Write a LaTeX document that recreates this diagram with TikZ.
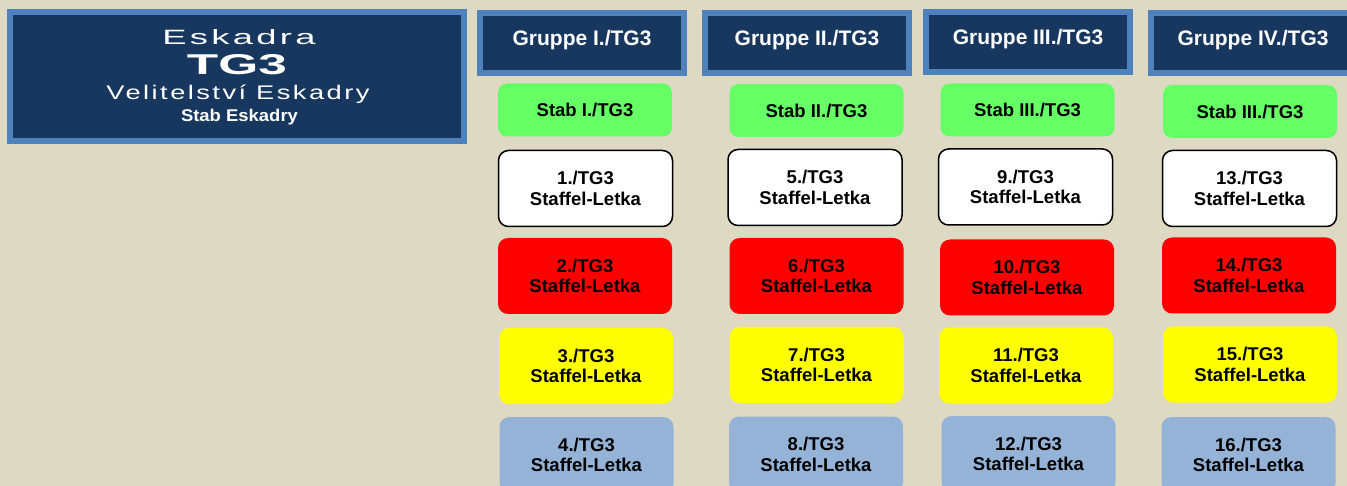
\documentclass[tikz,border=0pt]{standalone}
\usepackage{graphicx}
\usepackage{fontspec}
\setmainfont{Liberation Sans}
\newfontfamily\spaced[LetterSpace=9]{Liberation Sans}
\usepackage{tikz}
\definecolor{paper}{HTML}{DDD9C3}
\definecolor{navy}{HTML}{17375E}
\definecolor{steel}{HTML}{4F81BD}
\definecolor{stabgreen}{HTML}{66FF66}
\definecolor{letkared}{HTML}{FF0000}
\definecolor{letkayellow}{HTML}{FFFF00}
\definecolor{letkablue}{HTML}{95B3D7}
\tikzset{
  header/.style={fill=navy, draw=steel, line width=6pt, minimum width=204pt, minimum height=60pt,
    inner sep=0pt, text=white, font=\fontsize{21}{25}\selectfont\bfseries, text height=15pt, text depth=10pt},
  stab/.style={fill=stabgreen, rounded corners=9pt, minimum width=174pt, minimum height=53pt,
    inner sep=0pt, font=\fontsize{18.5}{21}\selectfont\bfseries},
  letka/.style={fill=#1, rounded corners=10pt, minimum width=174pt, minimum height=76pt,
    inner sep=0pt, align=center, font=\fontsize{18.5}{20.5}\selectfont\bfseries},
  firstletka/.style={letka=white, draw=black, line width=1.5pt},
  title/.style={anchor=base, inner sep=0pt, text=white, font=\fontsize{21}{25}\selectfont},
}

\begin{document}
\begin{tikzpicture}[x=1pt,y=-1pt]
        \useasboundingbox (0,0) rectangle (1347,486);
        \clip (0,0) rectangle (1347,486);
        \fill[paper] (0,0) rectangle (1347,486);
        % Eskadra
        \node[fill=navy, draw=steel, line width=6pt, minimum width=454pt, minimum height=129pt] (eskadra) at (237,76.5) {};
        \node[title] (name) at (239,45) {\resizebox{153pt}{15pt}{\spaced Eskadra}};
        \node[title] (code) at (237,75) {\resizebox{100pt}{20pt}{\bfseries TG3}};
        \node[title] (command) at (238,100) {\resizebox{263pt}{14.5pt}{\spaced Velitelství Eskadry}};
        \node[title] (staff) at (239.5,121.7) {\resizebox{117pt}{12.3pt}{\bfseries Stab Eskadry}};
        % Gruppen
        \node[header] (g1) at (582,43) {Gruppe I./TG3};
        \node[header] (g2) at (807,43) {Gruppe II./TG3};
        \node[header] (g3) at (1028,42) {Gruppe III./TG3};
        \node[header] (g4) at (1253,43) {Gruppe IV./TG3};
        % Stab
        \node[stab] (s1) at (585,110) {Stab I./TG3};
        \node[stab] (s2) at (816.5,110.5) {Stab II./TG3};
        \node[stab] (s3) at (1027.5,110) {Stab III./TG3};
        \node[stab] (s4) at (1250,111.5) {Stab III./TG3};
        % Staffeln
        \node[firstletka] (l1) at (585.5,188.5) {1./TG3\\Staffel-Letka};
        \node[letka=letkared] (l2) at (585,276) {2./TG3\\Staffel-Letka};
        \node[letka=letkayellow] (l3) at (586,366) {3./TG3\\Staffel-Letka};
        \node[letka=letkablue] (l4) at (586.5,455) {4./TG3\\Staffel-Letka};
        \node[firstletka] (l5) at (815,187.5) {5./TG3\\Staffel-Letka};
        \node[letka=letkared] (l6) at (816.5,276) {6./TG3\\Staffel-Letka};
        \node[letka=letkayellow] (l7) at (816.5,365) {7./TG3\\Staffel-Letka};
        \node[letka=letkablue] (l8) at (816,454.5) {8./TG3\\Staffel-Letka};
        \node[firstletka] (l9) at (1025.5,187) {9./TG3\\Staffel-Letka};
        \node[letka=letkared] (l10) at (1027,277.5) {10./TG3\\Staffel-Letka};
        \node[letka=letkayellow] (l11) at (1026,365.5) {11./TG3\\Staffel-Letka};
        \node[letka=letkablue] (l12) at (1028.5,454) {12./TG3\\Staffel-Letka};
        \node[firstletka] (l13) at (1249.5,188.5) {13./TG3\\Staffel-Letka};
        \node[letka=letkared] (l14) at (1249,275.5) {14./TG3\\Staffel-Letka};
        \node[letka=letkayellow] (l15) at (1250,364.5) {15./TG3\\Staffel-Letka};
        \node[letka=letkablue] (l16) at (1248.5,455) {16./TG3\\Staffel-Letka};
    \end{tikzpicture}
\end{document}
